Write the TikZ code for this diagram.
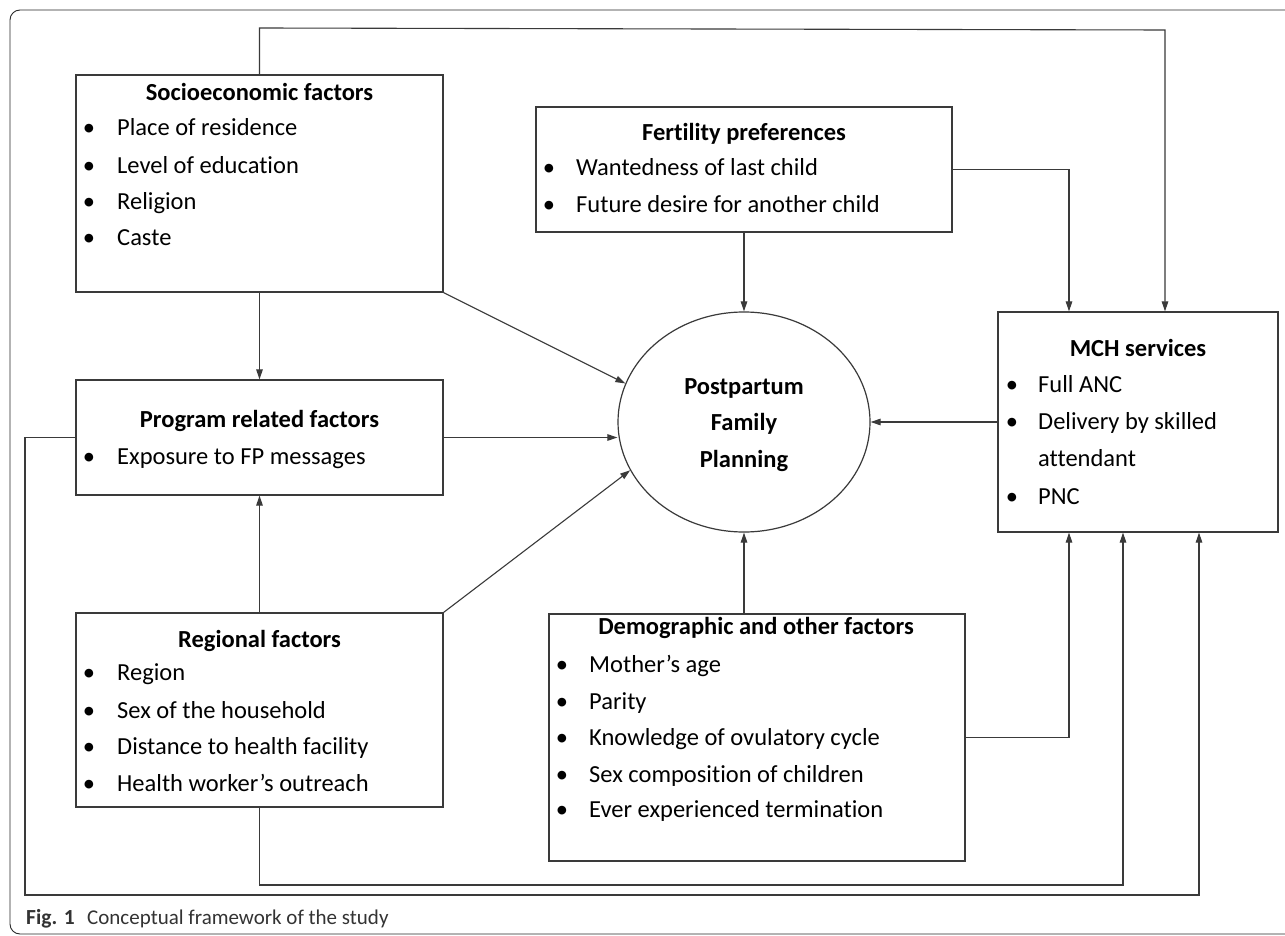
\documentclass[tikz,border=0pt]{standalone}
\usepackage{fontspec}
\setmainfont[Ligatures=NoCommon]{Carlito}
\usetikzlibrary{shapes.geometric,arrows.meta}
\definecolor{linec}{HTML}{3A3A3A}
\definecolor{framec}{HTML}{2A2A2A}
\definecolor{capc}{HTML}{333333}
\begin{document}
\begin{tikzpicture}[x=1pt,y=-1pt,
  box/.style={draw=linec, line width=1.2pt, rectangle, inner sep=0pt},
  arr/.style={draw=linec, line width=1.1pt, -{Triangle[length=10pt,width=6.5pt]}},
  ttl/.style={font=\fontsize{24.5}{28}\selectfont\bfseries, anchor=mid, inner sep=0pt, yshift=-5pt},
  itm/.style={font=\fontsize{24.5}{28}\selectfont, anchor=mid west, inner sep=0pt, yshift=-5pt},
  bul/.style={font=\fontsize{24.5}{28}\selectfont, anchor=mid, inner sep=0pt, yshift=-5pt},
]
\useasboundingbox (0,0) rectangle (1285,936);
\clip (0,0) rectangle (1285,936);
\fill[white] (0,0) rectangle (1285,936);
% outer frame
\draw[framec, line width=0.9pt, rounded corners=10pt] (10,934) rectangle (1320,10);

% boxes
\node[box, minimum width=367pt, minimum height=217pt] (socio) at (259.5,183.5) {};
\node[box, minimum width=416pt, minimum height=125pt] (fert) at (744,169.5) {};
\node[box, minimum width=367pt, minimum height=115pt] (prog) at (259.5,437.5) {};
\node[box, minimum width=367pt, minimum height=194pt] (reg) at (259.5,710) {};
\node[box, minimum width=416pt, minimum height=247pt] (dem) at (757,737.5) {};
\node[box, minimum width=280pt, minimum height=220pt] (mch) at (1138,422) {};
\node[box, ellipse, minimum width=252pt, minimum height=220pt] (ell) at (744,422) {};

% socioeconomic
\node[ttl] (t1) at (259.5,93) {Socioeconomic factors};
\node[bul] (b11) at (89,128) {•}; \node[itm] (i11) at (117,128) {Place of residence};
\node[bul] (b12) at (89,166) {•}; \node[itm] (i12) at (117,166) {Level of education};
\node[bul] (b13) at (89,202) {•}; \node[itm] (i13) at (117,202) {Religion};
\node[bul] (b14) at (89,238) {•}; \node[itm] (i14) at (117,238) {Caste};

% fertility
\node[ttl] (t2) at (744,133) {Fertility preferences};
\node[bul] (b21) at (549,168) {•}; \node[itm] (i21) at (576,168) {Wantedness of last child};
\node[bul] (b22) at (549,205) {•}; \node[itm] (i22) at (576,205) {Future desire for another child};

% program
\node[ttl] (t3) at (259.5,420) {Program related factors};
\node[bul] (b31) at (89,457) {•}; \node[itm] (i31) at (117,457) {Exposure to FP messages};

% regional
\node[ttl] (t4) at (259.5,640) {Regional factors};
\node[bul] (b41) at (89,673) {•}; \node[itm] (i41) at (117,673) {Region};
\node[bul] (b42) at (89,711) {•}; \node[itm] (i42) at (117,711) {Sex of the household};
\node[bul] (b43) at (89,747) {•}; \node[itm] (i43) at (117,747) {Distance to health facility};
\node[bul] (b44) at (89,784) {•}; \node[itm] (i44) at (117,784) {Health worker’s outreach};

% demographic
\node[ttl] (t5) at (756,627) {Demographic and other factors};
\node[bul] (b51) at (562,665) {•}; \node[itm] (i51) at (589,665) {Mother’s age};
\node[bul] (b52) at (562,702) {•}; \node[itm] (i52) at (589,702) {Parity};
\node[bul] (b53) at (562,738) {•}; \node[itm] (i53) at (589,738) {Knowledge of ovulatory cycle};
\node[bul] (b54) at (562,775) {•}; \node[itm] (i54) at (589,775) {Sex composition of children};
\node[bul] (b55) at (562,810) {•}; \node[itm] (i55) at (589,810) {Ever experienced termination};

% MCH
\node[ttl] (t6) at (1138,349) {MCH services};
\node[bul] (b61) at (1012,385) {•}; \node[itm] (i61) at (1038,385) {Full ANC};
\node[bul] (b62) at (1012,422) {•}; \node[itm] (i62) at (1038,422) {Delivery by skilled};
\node[itm] (i63) at (1038,459) {attendant};
\node[bul] (b64) at (1012,497) {•}; \node[itm] (i64) at (1038,497) {PNC};

% ellipse text
\node[ttl] (e1) at (744,387) {Postpartum};
\node[ttl] (e2) at (744,423) {Family};
\node[ttl] (e3) at (744,460) {Planning};

% coordinates for routing
\coordinate (topl) at (259.5,28);
\coordinate (topr) at (1165,30);
\coordinate (fr) at (1069,169.5);
\coordinate (dr) at (1069,737.5);
\coordinate (rb) at (259.5,885);
\coordinate (rbr) at (1123,885);
\coordinate (pl) at (25,437.5);
\coordinate (pb) at (25,895);
\coordinate (pbr) at (1199,895);

% connectors
\draw[arr] (socio.north) -- (topl) -- (topr) -- (topr |- mch.north);
\draw[arr] (fert.south) -- (ell.north);
\draw[arr] (fert.east) -- (fr) -- (fr |- mch.north);
\draw[arr] (socio.south) -- (prog.north);
\draw[arr] (socio.south east) -- (ell.162);
\draw[arr] (prog.east) -- (prog.east -| ell.west);
\draw[arr] (reg.north east) -- (ell.203);
\draw[arr] (reg.north) -- (prog.south);
\draw[arr] (ell.south |- dem.north) -- (ell.south);
\draw[arr] (mch.west) -- (ell.east);
\draw[arr] (dem.east) -- (dr) -- (dr |- mch.south);
\draw[arr] (reg.south) -- (rb) -- (rbr) -- (rbr |- mch.south);
\draw[arr] (prog.west) -- (pl) -- (pb) -- (pbr) -- (pbr |- mch.south);

% caption
\node[anchor=mid west, inner sep=0pt, font=\fontsize{21.5}{24}\selectfont\bfseries, text=capc] (cap1) at (26,922) {Fig. 1};
\node[anchor=mid west, inner sep=0pt, font=\fontsize{21}{24}\selectfont, text=capc] (cap2) at (87,922) {Conceptual framework of the study};
\end{tikzpicture}
\end{document}
